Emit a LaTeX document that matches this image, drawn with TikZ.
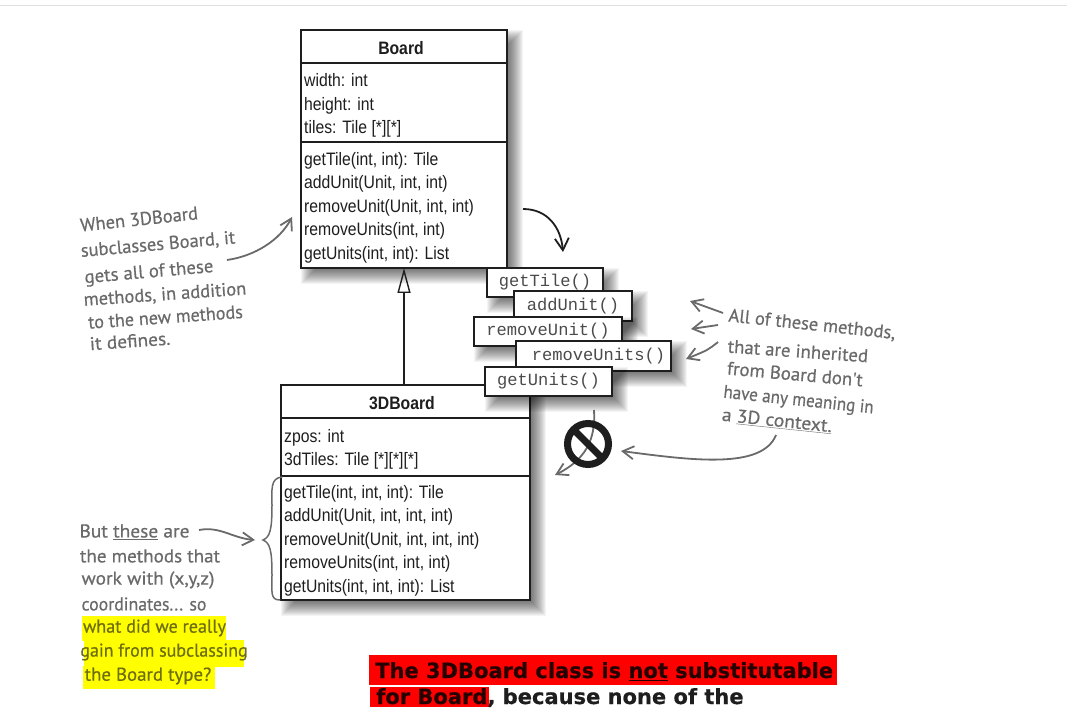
\documentclass[tikz,border=0pt]{standalone}
\usepackage{fontspec}
\usetikzlibrary{arrows.meta,calc}
\setmainfont{Liberation Sans}
\newfontfamily\umlfont[FakeStretch=0.875]{Liberation Sans}
\newfontfamily\monofont{Liberation Mono}
\newfontfamily\handfont[FakeStretch=1.0,FakeBold=0.5]{PT Sans}
\newfontfamily\heavyfont[FakeBold=0.5]{DejaVu Sans}
\definecolor{hand}{HTML}{6A6A6A}
\definecolor{ink}{HTML}{1E1E1E}
\definecolor{olive}{HTML}{6E6E10}
\definecolor{hiyellow}{HTML}{FFFF00}
\definecolor{hired}{HTML}{FF0000}
\tikzset{
  umlbox/.style={draw=ink,line width=1.8pt,fill=white,inner sep=0pt,outer sep=0pt,anchor=north west},
  umltext/.style={inner sep=0pt,anchor=west,align=left,text=ink,font={\umlfont\fontsize{18}{23.5}\selectfont}},
  umltitle/.style={inner sep=0pt,text=ink,font={\umlfont\bfseries\fontsize{18}{22}\selectfont}},
  umlsep/.style={draw=ink,line width=1.2pt},
  methodbox/.style={draw=ink,line width=1.6pt,fill=white,inner sep=0pt,outer sep=0pt,text=ink!80,font={\monofont\fontsize{17.1}{20}\selectfont}},
  handnote/.style={inner sep=0pt,text=hand,font={\handfont\fontsize{18.5}{22}\selectfont}},
  handarrow/.style={draw=hand,line width=1.8pt,-{Straight Barb[length=11pt,width=13pt,line width=1.8pt]}},
  hlbox/.style={fill=#1,draw=none,inner sep=0pt,outer sep=0pt},
  heavy/.style={inner sep=0pt,anchor=base west,font={\heavyfont\bfseries\fontsize{21}{25}\selectfont}},
}
\newcommand\softshadow[4]{%
  \foreach \k in {0,...,16}{
    \fill[black,opacity=.042] (#1+\k,#2+\k) rectangle (#3+16-\k,#4+16-\k);
  }}
\begin{document}
\begin{tikzpicture}[x=1pt,y=-1pt]
\useasboundingbox (0,0) rectangle (1067,708);
\fill[white] (0,0) rectangle (1067,708);
\draw[draw=black!12,line width=1pt] (0,5.5) -- (1067,5.5);

% Board
\softshadow{301}{30}{507}{268}
\node[umlbox,minimum width=206pt,minimum height=238pt] (board) at (301,30) {};
\draw[umlsep] (301,63) -- (507,63);
\draw[umlsep] (301,142) -- (507,142);
\node[umltitle] (boardtitle) at (401,48.5) {Board};
\node[umltext] (boardattrs) at (304,105.5) {width: int\\height: int\\tiles: Tile [*][*]};
\node[umltext] (boardmethods) at (304,207.5) {getTile(int, int): Tile\\addUnit(Unit, int, int)\\removeUnit(Unit, int, int)\\removeUnits(int, int)\\getUnits(int, int): List};

% 3DBoard
\softshadow{281}{385}{530}{600}
\node[umlbox,minimum width=249pt,minimum height=215pt] (tdboard) at (281,385) {};
\draw[umlsep] (281,418) -- (530,418);
\draw[umlsep] (281,476) -- (530,476);
\node[umltitle] (tdtitle) at (402,403.5) {3DBoard};
\node[umltext] (tdattrs) at (284,449.5) {zpos: int\\3dTiles: Tile [*][*][*]};
\node[umltext] (tdmethods) at (284,540.5) {getTile(int, int, int): Tile\\addUnit(Unit, int, int, int)\\removeUnit(Unit, int, int, int)\\removeUnits(int, int, int)\\getUnits(int, int, int): List};

% inheritance
\draw[ink,line width=1.6pt,-{Triangle[open,length=25pt,width=13pt,line width=1.4pt]}] (board.south |- tdboard.north) -- (board.south);

% method boxes
\softshadow{487}{268}{603}{297}
\node[methodbox,minimum width=116pt,minimum height=29pt] (m1) at (545,282.5) {getTile()};
\softshadow{514}{291}{632}{321}
\node[methodbox,minimum width=118pt,minimum height=30pt] (m2) at (573,306) {addUnit()};
\softshadow{474}{317}{622}{346}
\node[methodbox,minimum width=148pt,minimum height=29pt] (m3) at (548,331.5) {removeUnit()};
\softshadow{516}{341}{671}{371}
\node[methodbox,minimum width=155pt,minimum height=30pt] (m4) at (593.5,356) {\hspace*{10pt}removeUnits()};
\softshadow{485}{367}{612}{396}
\node[methodbox,minimum width=127pt,minimum height=29pt] (m5) at (548.5,381.5) {getUnits()};

% black arrow
\coordinate (bstart) at (523,209);
\coordinate (bend) at (563,252);
\draw[ink,line width=1.8pt,-{Straight Barb[length=12pt,width=14pt,line width=1.8pt]}] (bstart) .. controls (548,209) and (561,228) .. (bend);

% gray curve through the no sign
\coordinate (cstart) at (594,410);
\coordinate (cend) at (555,475);
\draw[handarrow] (cstart) .. controls (596,440) and (585,460) .. (cend);
\node[circle,draw=ink,line width=7pt,minimum size=41pt,inner sep=0pt,outer sep=0pt] (nosign) at (588,444) {};
\draw[ink,line width=7pt] (nosign.north west) -- (nosign.south east);

% left note
\node[handnote,rotate=6] (n1a) at (139,219) {When 3DBoard};
\node[handnote,rotate=5] (n1b) at (158,245) {subclasses Board, it};
\node[handnote,rotate=5] (n1c) at (149,273) {\scalebox{1.02}[1]{gets all of these}};
\node[handnote,rotate=4] (n1d) at (165,295) {methods, in addition};
\node[handnote,rotate=4] (n1e) at (165.5,317) {\scalebox{.98}[1]{to the new methods}};
\node[handnote,rotate=4] (n1f) at (130,341) {\scalebox{1.05}[1]{it defines.}};
\coordinate (a1start) at (227,260);
\coordinate (a1end) at (292,217);
\draw[handarrow] (a1start) .. controls (255,256) and (280,240) .. (a1end);

% right note
\node[handnote,rotate=-6] (n2a) at (812,325) {All of these methods,};
\node[handnote,rotate=-4] (n2b) at (798,351) {\scalebox{1.02}[1]{that are inherited}};
\node[handnote,rotate=-5] (n2c) at (795,374) {\scalebox{1.02}[1]{from Board don't}};
\node[handnote,rotate=-6] (n2d) at (798.5,401) {\scalebox{.92}[1]{have any meaning in}};
\node[handnote,rotate=-6] (n2e) at (777,421) {\scalebox{1.06}[1]{a \underline{3D context.}}};
\coordinate (r1) at (723,313); \coordinate (r1e) at (690,301);
\coordinate (r2) at (718,325); \coordinate (r2e) at (691,329);
\coordinate (r3) at (718,342); \coordinate (r3e) at (686,359);
\coordinate (r4) at (776,435); \coordinate (r4e) at (621,451);
\draw[handarrow] (r1) -- (r1e);
\draw[handarrow] (r2) -- (r2e);
\draw[handarrow] (r3) .. controls (708,350) .. (r3e);
\draw[handarrow] (r4) .. controls (762,470) and (690,460) .. (r4e);

% bottom-left note
\node[hlbox=hiyellow,minimum width=144pt,minimum height=25pt] (y1) at (154,628) {};
\node[hlbox=hiyellow,minimum width=160pt,minimum height=27pt] (y2) at (164,653) {};
\node[hlbox=hiyellow,minimum width=132pt,minimum height=23pt] (y3) at (149,677.5) {};
\node[handnote] (n3a) at (134.5,532) {\scalebox{1.05}[1]{But \underline{these} are}};
\node[handnote] (n3b) at (150,556) {\scalebox{1.03}[1]{the methods that}};
\node[handnote] (n3c) at (148,580) {\scalebox{1.05}[1]{work with (x,y,z)}};
\node[handnote] (n3d) at (144,604) {\scalebox{.96}[1]{coordinates... so}};
\node[handnote,text=olive] (n3e) at (154.5,628) {\scalebox{.98}[1]{what did we really}};
\node[handnote,text=olive] (n3f) at (164,652) {\scalebox{.97}[1]{gain from subclassing}};
\node[handnote,text=olive] (n3g) at (148,676) {\scalebox{1.02}[1]{the Board type?}};
\coordinate (bs) at (199,530);
\coordinate (be) at (255,540);
\draw[handarrow] (bs) .. controls (220,526) and (232,538) .. (be);
\coordinate (brt) at (282,477);
\coordinate (brm) at (263,540);
\coordinate (brb) at (280,600);
\draw[hand,line width=1.5pt,line cap=round] (brt) .. controls (270,478) and (272,490) .. (272,505) .. controls (272,530) and (270,537) .. (brm) .. controls (270,543) and (272,550) .. (272,575) .. controls (272,592) and (270,600) .. (brb);

% bottom text
\node[hlbox=hired,minimum width=468pt,minimum height=30pt,anchor=north west] (red1) at (369,655) {};
\node[hlbox=hired,minimum width=119pt,minimum height=20pt,anchor=north west] (red2) at (370,687) {};
\node[heavy,text=black!85!red] (t1) at (375,678) {The 3DBoard class is \underline{not} substitutable};
\node[heavy,text=ink] (t2) at (376,704) {\textcolor{black!85!red}{for Board},\ because none of the};
\end{tikzpicture}
\end{document}
